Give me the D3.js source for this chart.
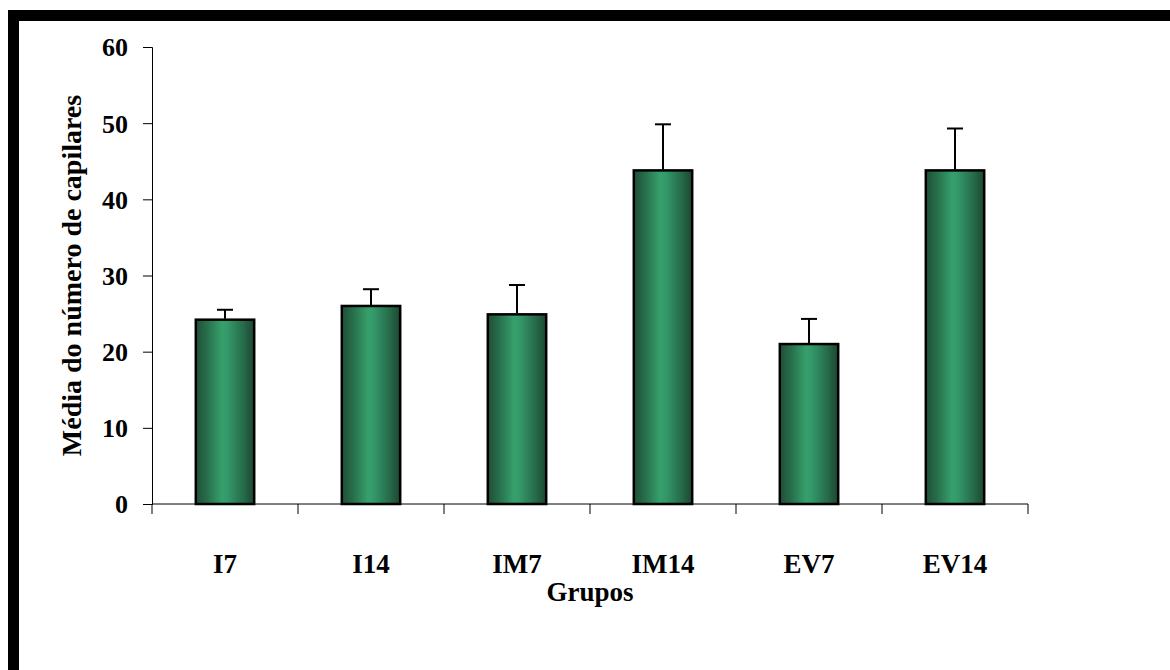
<!DOCTYPE html>
<html><head><meta charset="utf-8">
<script src="https://cdn.jsdelivr.net/npm/d3@7"></script>
<style>
html,body{margin:0;padding:0;background:#fff;}
text{font-family:"Liberation Serif","Times New Roman",serif;font-weight:bold;fill:#000;}
</style></head>
<body>
<svg id="chart" width="1170" height="670"></svg>
<script>
const categories = ["I7","I14","IM7","IM14","EV7","EV14"];
const means = [24.2, 26.0, 24.9, 43.8, 21.0, 43.8];
const errors = [1.3, 2.2, 3.85, 6.05, 3.3, 5.5];
const yTicks = [0,10,20,30,40,50,60];
const yTitle = "Média do número de capilares";
const xTitle = "Grupos";

(function(){
const svg = d3.select("#chart");
const W = 1170, H = 670;
svg.append("rect").attr("width",W).attr("height",H).attr("fill","#fff");
svg.append("rect").attr("x",8).attr("y",10).attr("width",W-8).attr("height",11).attr("fill","#000");
svg.append("rect").attr("x",8).attr("y",10).attr("width",11).attr("height",H-10).attr("fill","#000");

const mL = 152, mR = 1028, mT = 47, mB = 504;
const x = d3.scaleBand().domain(categories).range([mL,mR]).paddingInner(0).paddingOuter(0);
const y = d3.scaleLinear().domain([0,60]).range([mB,mT]);

const defs = svg.append("defs");
const grad = defs.append("linearGradient").attr("id","barGrad").attr("x1","0%").attr("x2","100%").attr("y1","0%").attr("y2","0%");
[[0,"#1f4f37"],[0.18,"#276c4a"],[0.45,"#36a06b"],[0.55,"#33986a"],[0.82,"#266a49"],[1,"#1c4631"]]
  .forEach(([o,c])=>grad.append("stop").attr("offset",o).attr("stop-color",c));

const yAxis = d3.axisLeft(y).tickValues(yTicks).tickSize(9).tickPadding(15).tickFormat(d3.format("d"));
const gy = svg.append("g").attr("transform",`translate(${mL},0)`).call(yAxis);
gy.attr("font-family",null).attr("font-size",null);
gy.select(".domain").attr("stroke","#000").attr("stroke-width",1);
gy.selectAll(".tick line").attr("stroke","#000");
gy.selectAll(".tick text").style("font-size","26px").attr("dy","0.34em");

const gx = svg.append("g").attr("transform",`translate(0,${mB})`);
gx.append("line").attr("x1",mL).attr("x2",mR).attr("y1",0).attr("y2",0).attr("stroke","#000").attr("stroke-width",1);
const bounds = categories.map(c=>x(c)).concat([mR]);
gx.selectAll("line.tk").data(bounds).enter().append("line").attr("class","tk")
  .attr("x1",d=>d).attr("x2",d=>d).attr("y1",0).attr("y2",10).attr("stroke","#000");
gx.selectAll("text.lbl").data(categories).enter().append("text").attr("class","lbl")
  .attr("x",d=>x(d)+x.bandwidth()/2).attr("y",69).attr("text-anchor","middle")
  .style("font-size","27px").text(d=>d);

const bw = x.bandwidth()*0.4;
const data = categories.map((c,i)=>({c, m:means[i], e:errors[i]}));
svg.selectAll("rect.bar").data(data).enter().append("rect").attr("class","bar")
  .attr("x",d=>x(d.c)+x.bandwidth()/2-bw/2).attr("width",bw)
  .attr("y",d=>y(d.m)).attr("height",d=>y(0)-y(d.m))
  .attr("fill","url(#barGrad)").attr("stroke","#000").attr("stroke-width",2.5);

const eg = svg.selectAll("g.err").data(data).enter().append("g").attr("class","err");
eg.append("line").attr("x1",d=>x(d.c)+x.bandwidth()/2).attr("x2",d=>x(d.c)+x.bandwidth()/2)
  .attr("y1",d=>y(d.m)-1).attr("y2",d=>y(d.m+d.e)).attr("stroke","#000").attr("stroke-width",2);
eg.append("line").attr("x1",d=>x(d.c)+x.bandwidth()/2-8).attr("x2",d=>x(d.c)+x.bandwidth()/2+8)
  .attr("y1",d=>y(d.m+d.e)).attr("y2",d=>y(d.m+d.e)).attr("stroke","#000").attr("stroke-width",2);

svg.append("text").attr("x",(mL+mR)/2).attr("y",601).attr("text-anchor","middle")
  .style("font-size","27px").text(xTitle);
svg.append("text").attr("transform",`translate(81,${(mT+mB)/2}) rotate(-90)`).attr("text-anchor","middle")
  .style("font-size","28px").text(yTitle);
})();
</script>
</body></html>
